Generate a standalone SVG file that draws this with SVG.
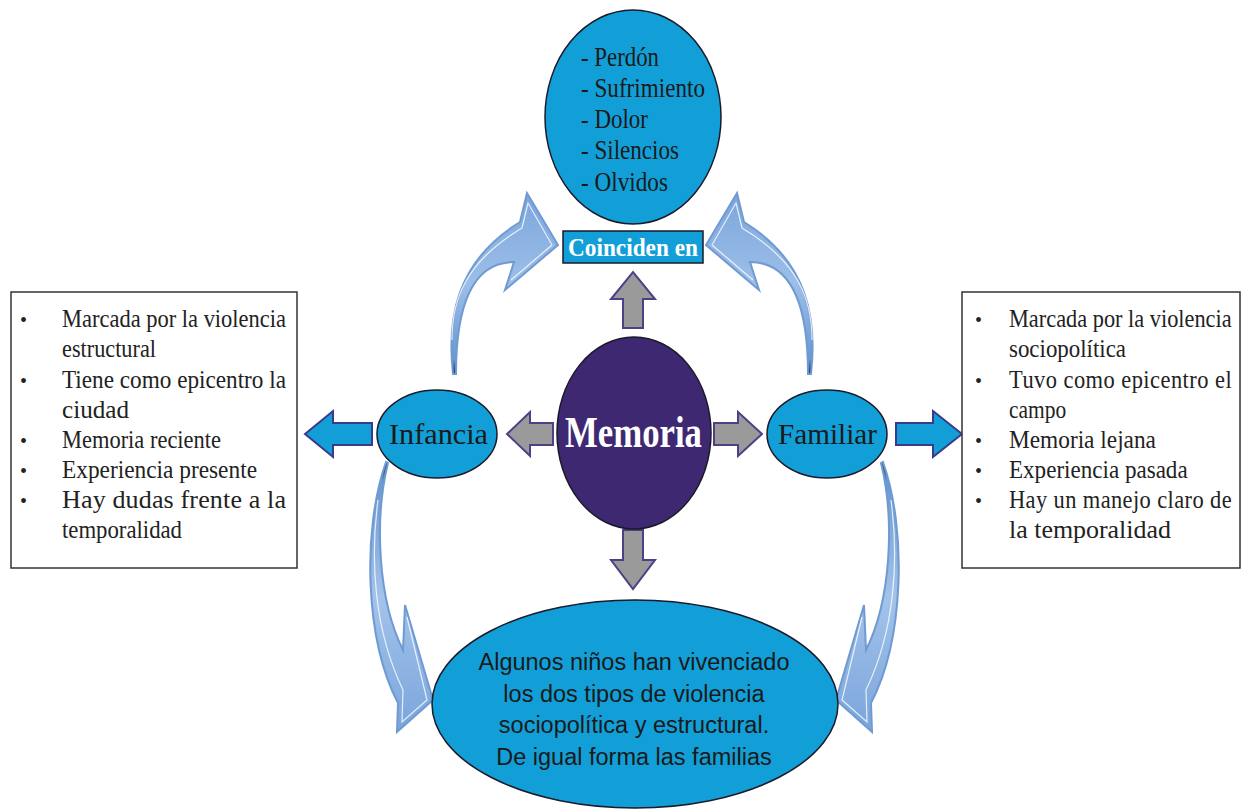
<svg xmlns="http://www.w3.org/2000/svg" width="1243" height="811" viewBox="0 0 1243 811">
<defs>
<style>
.serif{font-family:"Liberation Serif","Times New Roman",serif;}
.sans{font-family:"Liberation Sans",Arial,sans-serif;}
.cyan{fill:#129fd7;stroke:#1a1a2a;stroke-width:1.5;}
.box{fill:#ffffff;stroke:#333333;stroke-width:1.5;}
.btxt{font-size:26px;fill:#222222;}
.rtxt{font-size:25.5px;fill:#222222;}
.bul{font-size:20px;fill:#222222;}
.top{font-size:27px;fill:#1a1a1a;}
.gray{fill:#9a9a9a;stroke:#4e3f86;stroke-width:2;stroke-linejoin:miter;}
.blue{fill:#129fd7;stroke:#3a3a8c;stroke-width:2;stroke-linejoin:miter;}
.curveUp{fill:url(#gUp);stroke:#6f9ad2;stroke-width:2;stroke-linejoin:miter;}
.curveDown{fill:url(#gDown);stroke:#6f9ad2;stroke-width:2;stroke-linejoin:miter;}
.hl{fill:none;stroke:#ffffff;stroke-width:1.2;stroke-opacity:0.8;}
</style>
<linearGradient id="gUp" x1="0" y1="1" x2="0" y2="0">
<stop offset="0" stop-color="#1b2b58"/>
<stop offset="0.08" stop-color="#6a98d2"/>
<stop offset="0.5" stop-color="#9dbfe8"/>
<stop offset="1" stop-color="#7aa5dc"/>
</linearGradient>
<linearGradient id="gDown" x1="0" y1="0" x2="0" y2="1">
<stop offset="0" stop-color="#1b2b58"/>
<stop offset="0.07" stop-color="#6a98d2"/>
<stop offset="0.5" stop-color="#a3c3ea"/>
<stop offset="1" stop-color="#7aa5dc"/>
</linearGradient>
</defs>
<rect x="0" y="0" width="1243" height="811" fill="#ffffff"/>

<g id="connectors">
<g id="curve-infancia-coinciden">
<path class="curveUp" d="M453,374 C447,320 455,262 520,222 L527,193 L558,245 L505,290 L514,262 C475,262 456,300 456,374 Z"/>
<path class="hl" d="M452,340 C452,300 465,262 522,228 L528,203 L552,245 L511,280"/>
</g>
<g id="curve-familiar-coinciden" transform="translate(1264,0) scale(-1,1)">
<path class="curveUp" d="M453,374 C447,320 455,262 520,222 L527,193 L558,245 L505,290 L514,262 C475,262 456,300 456,374 Z"/>
<path class="hl" d="M452,340 C452,300 465,262 522,228 L528,203 L552,245 L511,280"/>
</g>
<g id="curve-infancia-bottom">
<path class="curveDown" d="M386,462 C362,530 365,640 398,703 L397,732 L433,700 L405,605 L403,650 C378,600 374,520 388,463 Z"/>
<path class="hl" d="M378,500 C370,560 374,630 403,690 L402,722 L427,700 L407,617"/>
</g>
<g id="curve-familiar-bottom" transform="translate(1269,0) scale(-1,1)">
<path class="curveDown" d="M386,462 C362,530 365,640 398,703 L397,732 L433,700 L405,605 L403,650 C378,600 374,520 388,463 Z"/>
<path class="hl" d="M378,500 C370,560 374,630 403,690 L402,722 L427,700 L407,617"/>
</g>
<path id="arrow-up" class="gray" d="M623,328 L623,299 L611,299 L633,272 L655,299 L643,299 L643,328 Z"/>
<path id="arrow-down" class="gray" d="M623,530 L643,530 L643,560 L655,560 L633,589 L611,560 L623,560 Z"/>
<path id="arrow-left" class="gray" d="M553,423 L530,423 L530,412 L507,434 L530,456 L530,445 L553,445 Z"/>
<path id="arrow-right" class="gray" d="M714,423 L738,423 L738,412 L762,434 L738,456 L738,445 L714,445 Z"/>
<path id="arrow-left-box" class="blue" d="M372,423 L333,423 L333,411 L305,434 L333,457 L333,445 L372,445 Z"/>
<path id="arrow-right-box" class="blue" d="M896,423 L933,423 L933,411 L962,434 L933,457 L933,445 L896,445 Z"/>
</g>

<g id="node-coincide">
<ellipse class="cyan" cx="633" cy="117" rx="88" ry="107"/>
<text class="serif top" x="581" y="66" textLength="78" lengthAdjust="spacingAndGlyphs">- Perdón</text>
<text class="serif top" x="581" y="97" textLength="124" lengthAdjust="spacingAndGlyphs">- Sufrimiento</text>
<text class="serif top" x="581" y="128" textLength="67" lengthAdjust="spacingAndGlyphs">- Dolor</text>
<text class="serif top" x="581" y="159" textLength="98" lengthAdjust="spacingAndGlyphs">- Silencios</text>
<text class="serif top" x="581" y="191" textLength="87" lengthAdjust="spacingAndGlyphs">- Olvidos</text>
</g>

<g id="node-coinciden-en">
<rect x="563" y="231" width="140" height="32" fill="#129fd7" stroke="#1a1a2a" stroke-width="1.5"/>
<text class="serif" x="568" y="256" font-size="25" font-weight="bold" fill="#ffffff" textLength="130" lengthAdjust="spacingAndGlyphs">Coinciden en</text>
</g>

<g id="node-memoria">
<ellipse cx="634" cy="433" rx="77" ry="96" fill="#3e2872" stroke="#1a1a2a" stroke-width="1.5"/>
<text class="serif" x="565" y="447" font-size="45" font-weight="bold" fill="#ffffff" textLength="137" lengthAdjust="spacingAndGlyphs">Memoria</text>
</g>

<g id="node-infancia">
<ellipse class="cyan" cx="437" cy="434" rx="60" ry="44"/>
<text class="serif" x="389" y="444" font-size="30" fill="#1a1a1a" textLength="99" lengthAdjust="spacingAndGlyphs">Infancia</text>
</g>

<g id="node-familiar">
<ellipse class="cyan" cx="827" cy="434" rx="60" ry="44"/>
<text class="serif" x="778" y="444" font-size="30" fill="#1a1a1a" textLength="99" lengthAdjust="spacingAndGlyphs">Familiar</text>
</g>

<g id="node-bottom">
<ellipse class="cyan" cx="635" cy="704" rx="203" ry="104"/>
<g class="sans" font-size="23.5" fill="#1a1a1a" text-anchor="middle">
<text x="634" y="670">Algunos niños han vivenciado</text>
<text x="634" y="702">los dos tipos de violencia</text>
<text x="634" y="733">sociopolítica y estructural.</text>
<text x="634" y="765">De igual forma las familias</text>
</g>
</g>

<g id="node-infancia-box">
<rect class="box" x="11" y="292" width="286" height="276"/>
<g class="serif">
<text class="bul" x="20" y="327">•</text>
<text class="bul" x="20" y="388">•</text>
<text class="bul" x="20" y="448">•</text>
<text class="bul" x="20" y="478">•</text>
<text class="bul" x="20" y="508">•</text>
<text class="btxt" x="62" y="327" textLength="224" lengthAdjust="spacingAndGlyphs">Marcada por la violencia</text>
<text class="btxt" x="62" y="357" textLength="94" lengthAdjust="spacingAndGlyphs">estructural</text>
<text class="btxt" x="62" y="388" textLength="224" lengthAdjust="spacingAndGlyphs">Tiene como epicentro la</text>
<text class="btxt" x="62" y="418" textLength="67" lengthAdjust="spacingAndGlyphs">ciudad</text>
<text class="btxt" x="62" y="448" textLength="159" lengthAdjust="spacingAndGlyphs">Memoria reciente</text>
<text class="btxt" x="62" y="478" textLength="195" lengthAdjust="spacingAndGlyphs">Experiencia presente</text>
<text class="btxt" x="62" y="508" textLength="224" lengthAdjust="spacing">Hay dudas frente a la</text>
<text class="btxt" x="62" y="538" textLength="120" lengthAdjust="spacingAndGlyphs">temporalidad</text>
</g>
</g>

<g id="node-familiar-box">
<rect class="box" x="962" y="292" width="278" height="276"/>
<g class="serif">
<text class="bul" x="975" y="327">•</text>
<text class="bul" x="975" y="388">•</text>
<text class="bul" x="975" y="448">•</text>
<text class="bul" x="975" y="478">•</text>
<text class="bul" x="975" y="508">•</text>
<g transform="translate(1009,0) scale(0.88,1)">
<text class="rtxt" x="0" y="327" textLength="253" lengthAdjust="spacingAndGlyphs">Marcada por la violencia</text>
<text class="rtxt" x="0" y="357" textLength="133" lengthAdjust="spacingAndGlyphs">sociopolítica</text>
<text class="rtxt" x="0" y="388" textLength="253" lengthAdjust="spacing">Tuvo como epicentro el</text>
<text class="rtxt" x="0" y="418" textLength="65" lengthAdjust="spacingAndGlyphs">campo</text>
<text class="rtxt" x="0" y="448" textLength="167" lengthAdjust="spacingAndGlyphs">Memoria lejana</text>
<text class="rtxt" x="0" y="478" textLength="203" lengthAdjust="spacingAndGlyphs">Experiencia pasada</text>
<text class="rtxt" x="0" y="508" textLength="253" lengthAdjust="spacing">Hay un manejo claro de</text>
<text class="rtxt" x="0" y="538" textLength="184" lengthAdjust="spacingAndGlyphs">la temporalidad</text>
</g>
</g>
</g>
</svg>
